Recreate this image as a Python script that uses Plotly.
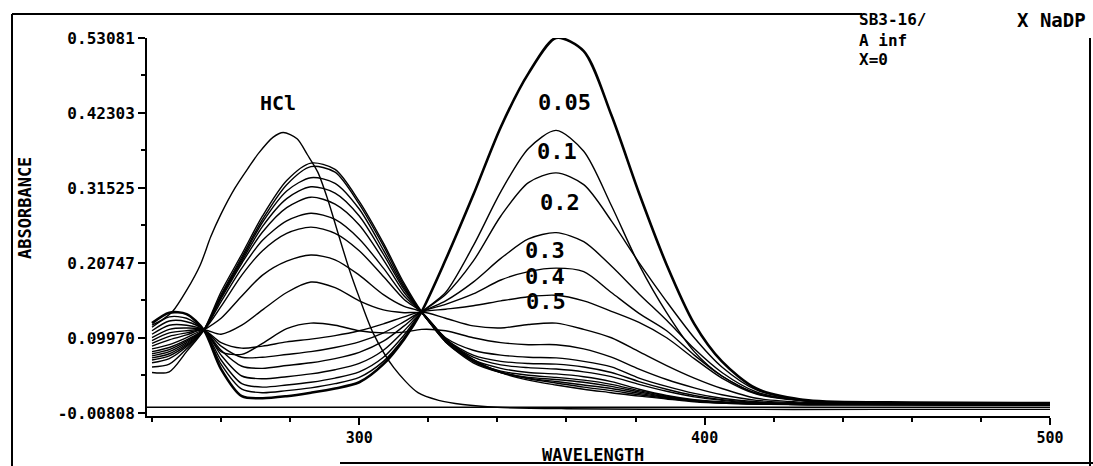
import plotly.graph_objects as go

# ---------------- data ----------------
WAVELENGTH = [240, 245, 250, 255, 260, 266, 272, 279, 286, 293, 300, 307, 313, 318,
              325, 333, 341, 349, 357, 365, 373, 381, 389, 397, 405, 415, 430, 460, 500]

c01 = [0.121, 0.136, 0.134, 0.111, 0.055, 0.016, 0.013, 0.016, 0.021, 0.027, 0.036, 0.062, 0.098, 0.137,
       0.212, 0.305, 0.403, 0.480, 0.531, 0.512, 0.420, 0.308, 0.205, 0.120, 0.066, 0.027, 0.010, 0.007, 0.006]
c02 = [0.115, 0.130, 0.128, 0.111, 0.062, 0.026, 0.021, 0.024, 0.028, 0.034, 0.043, 0.066, 0.100, 0.136,
       0.165, 0.232, 0.310, 0.372, 0.398, 0.368, 0.290, 0.205, 0.136, 0.080, 0.045, 0.020, 0.009, 0.006, 0.005]
c03 = [0.110, 0.124, 0.123, 0.111, 0.068, 0.034, 0.029, 0.032, 0.036, 0.042, 0.051, 0.072, 0.104, 0.136,
       0.162, 0.210, 0.275, 0.323, 0.337, 0.320, 0.268, 0.208, 0.152, 0.100, 0.058, 0.025, 0.010, 0.006, 0.005]
c04 = [0.105, 0.118, 0.118, 0.111, 0.075, 0.045, 0.041, 0.044, 0.048, 0.054, 0.063, 0.082, 0.110, 0.136,
       0.153, 0.180, 0.214, 0.242, 0.251, 0.238, 0.203, 0.163, 0.125, 0.084, 0.050, 0.022, 0.009, 0.006, 0.005]
c05 = [0.100, 0.112, 0.114, 0.111, 0.082, 0.059, 0.056, 0.060, 0.064, 0.070, 0.079, 0.095, 0.117, 0.137,
       0.148, 0.163, 0.183, 0.195, 0.200, 0.195, 0.165, 0.135, 0.110, 0.075, 0.045, 0.020, 0.009, 0.006, 0.005]
c06 = [0.096, 0.107, 0.110, 0.111, 0.088, 0.072, 0.072, 0.076, 0.080, 0.086, 0.094, 0.107, 0.123, 0.137,
       0.141, 0.146, 0.153, 0.159, 0.161, 0.153, 0.138, 0.122, 0.100, 0.070, 0.042, 0.019, 0.009, 0.006, 0.005]
c07 = [0.092, 0.102, 0.107, 0.111, 0.093, 0.085, 0.088, 0.094, 0.098, 0.103, 0.110, 0.120, 0.130, 0.137,
       0.128, 0.117, 0.114, 0.119, 0.121, 0.112, 0.100, 0.080, 0.060, 0.042, 0.027, 0.013, 0.007, 0.005, 0.004]
c08 = [0.088, 0.097, 0.104, 0.111, 0.080, 0.076, 0.092, 0.113, 0.121, 0.118, 0.110, 0.107, 0.108, 0.112,
       0.110, 0.100, 0.093, 0.090, 0.090, 0.084, 0.072, 0.055, 0.040, 0.028, 0.018, 0.010, 0.006, 0.005, 0.004]
c09 = [0.084, 0.090, 0.100, 0.111, 0.105, 0.118, 0.140, 0.165, 0.180, 0.172, 0.153, 0.140, 0.136, 0.135,
       0.100, 0.082, 0.075, 0.072, 0.071, 0.066, 0.058, 0.042, 0.030, 0.020, 0.013, 0.008, 0.005, 0.004, 0.004]
c10 = [0.080, 0.086, 0.097, 0.111, 0.128, 0.160, 0.190, 0.210, 0.219, 0.212, 0.190, 0.162, 0.145, 0.137,
       0.098, 0.075, 0.066, 0.063, 0.062, 0.058, 0.050, 0.037, 0.026, 0.017, 0.011, 0.007, 0.005, 0.004, 0.004]
c11 = [0.077, 0.083, 0.095, 0.111, 0.145, 0.190, 0.225, 0.250, 0.259, 0.250, 0.225, 0.188, 0.155, 0.137,
       0.097, 0.072, 0.061, 0.057, 0.055, 0.051, 0.044, 0.033, 0.023, 0.015, 0.010, 0.006, 0.005, 0.004, 0.004]
c12 = [0.074, 0.080, 0.093, 0.111, 0.152, 0.200, 0.240, 0.268, 0.279, 0.270, 0.242, 0.200, 0.160, 0.137,
       0.095, 0.068, 0.056, 0.050, 0.048, 0.044, 0.037, 0.026, 0.017, 0.011, 0.008, 0.005, 0.004, 0.004, 0.003]
c13 = [0.071, 0.077, 0.091, 0.111, 0.156, 0.207, 0.252, 0.287, 0.302, 0.292, 0.262, 0.212, 0.165, 0.137,
       0.094, 0.066, 0.052, 0.046, 0.043, 0.039, 0.033, 0.024, 0.016, 0.010, 0.007, 0.005, 0.004, 0.004, 0.003]
c14 = [0.068, 0.074, 0.089, 0.111, 0.158, 0.210, 0.260, 0.300, 0.317, 0.308, 0.275, 0.220, 0.169, 0.137,
       0.094, 0.064, 0.050, 0.043, 0.040, 0.036, 0.030, 0.022, 0.015, 0.010, 0.007, 0.005, 0.004, 0.004, 0.003]
c15 = [0.064, 0.070, 0.087, 0.111, 0.160, 0.213, 0.266, 0.311, 0.330, 0.322, 0.285, 0.226, 0.172, 0.137,
       0.096, 0.066, 0.050, 0.042, 0.037, 0.032, 0.027, 0.020, 0.014, 0.009, 0.006, 0.005, 0.004, 0.004, 0.003]
c16 = [0.058, 0.062, 0.084, 0.111, 0.162, 0.216, 0.270, 0.320, 0.346, 0.338, 0.292, 0.232, 0.175, 0.137,
       0.098, 0.068, 0.051, 0.041, 0.035, 0.029, 0.024, 0.018, 0.013, 0.009, 0.006, 0.005, 0.004, 0.004, 0.003]
c17 = [0.050, 0.051, 0.080, 0.111, 0.166, 0.220, 0.275, 0.326, 0.351, 0.342, 0.296, 0.236, 0.178, 0.138,
       0.099, 0.069, 0.050, 0.039, 0.032, 0.026, 0.021, 0.016, 0.012, 0.008, 0.006, 0.005, 0.004, 0.004, 0.003]

SERIES = [c01, c02, c03, c04, c05, c06, c07, c08, c09, c10, c11, c12, c13, c14, c15, c16, c17]

WAVELENGTH_HCL = [240, 243, 246, 250, 254, 257, 260, 264, 268, 271, 275, 278, 282, 285, 288, 291, 294,
                  297, 300, 304, 310, 317, 323, 330, 340, 360, 400, 450, 500]
HCL = [0.118, 0.126, 0.138, 0.168, 0.205, 0.245, 0.278, 0.315, 0.345, 0.366, 0.388, 0.395, 0.386, 0.363,
       0.338, 0.297, 0.248, 0.200, 0.158, 0.107, 0.057, 0.021, 0.010, 0.004, 0.000, -0.002, -0.003, -0.003, -0.003]

BASELINE = 0.0

Y_TICKS = [-0.00808, 0.09970, 0.20747, 0.31525, 0.42303, 0.53081]
Y_TICK_TEXT = ["-0.00808", "0.09970", "0.20747", "0.31525", "0.42303", "0.53081"]
X_TICKS = [300, 400, 500]
X_TICK_TEXT = ["300", "400", "500"]

CURVE_LABELS = ["0.05", "0.1", "0.2", "0.3", "0.4", "0.5"]
CURVE_LABEL_X = [359.3, 357.3, 358.1, 353.8, 353.8, 354.1]
CURVE_LABEL_Y = [0.4388, 0.3670, 0.2937, 0.2261, 0.1874, 0.1515]

# ---------------- figure ----------------
W, H = 1093, 466
L, R, T, B = 147, 1050, 38, 416   # plot-area pixel box
MONO = "DejaVu Sans Mono"

def px(xp):
    return (xp - L) / (R - L)

def py(yp):
    return (B - yp) / (B - T)

fig = go.Figure()

for i, s in enumerate(SERIES):
    fig.add_trace(go.Scatter(
        x=WAVELENGTH, y=s, mode="lines",
        line=dict(color="black", width=2.6 if i == 0 else 1.4, shape="spline", smoothing=0.8),
        hoverinfo="skip", showlegend=False))

fig.add_trace(go.Scatter(
    x=WAVELENGTH_HCL, y=HCL, mode="lines",
    line=dict(color="black", width=1.4, shape="spline", smoothing=0.8),
    hoverinfo="skip", showlegend=False))

x_lo = 238.55
y_lo = -0.0125
y_hi = 0.53081

fig.add_shape(type="line", xref="x", yref="y", x0=x_lo, x1=500, y0=BASELINE, y1=BASELINE,
              line=dict(color="black", width=1.5))

# frame lines (paper coords computed from pixel positions)
frame = [
    (12, 14, 12, 466),
    (12, 14, 862, 14),
    (1090, 38, 1090, 466),
    (340, 463, 1093, 463),
]
for x0, y0, x1, y1 in frame:
    fig.add_shape(type="line", xref="paper", yref="paper",
                  x0=px(x0), y0=py(y0), x1=px(x1), y1=py(y1),
                  line=dict(color="black", width=2))

annos = []
for t, x, y in zip(CURVE_LABELS, CURVE_LABEL_X, CURVE_LABEL_Y):
    annos.append(dict(text=t, x=x, y=y, xref="x", yref="y", showarrow=False,
                      font=dict(family=MONO, size=22, color="black", weight="bold")))
annos.append(dict(text="HCl", x=276.5, y=0.4374, xref="x", yref="y", showarrow=False,
                  font=dict(family=MONO, size=20, color="black", weight="bold")))

annos.append(dict(text="SB3-16/", x=px(857), y=py(20), xref="paper", yref="paper",
                  xanchor="left", yanchor="middle", showarrow=False,
                  font=dict(family=MONO, size=16, color="black", weight="bold")))
annos.append(dict(text="X NaDP", x=px(1088), y=py(20), xref="paper", yref="paper",
                  xanchor="right", yanchor="middle", showarrow=False,
                  font=dict(family=MONO, size=19, color="black", weight="bold")))
annos.append(dict(text="A inf", x=px(857), y=py(40), xref="paper", yref="paper",
                  xanchor="left", yanchor="middle", showarrow=False,
                  font=dict(family=MONO, size=16, color="black", weight="bold")))
annos.append(dict(text="X=0", x=px(857), y=py(59), xref="paper", yref="paper",
                  xanchor="left", yanchor="middle", showarrow=False,
                  font=dict(family=MONO, size=16, color="black", weight="bold")))

annos.append(dict(text="ABSORBANCE", x=px(25), y=py(208), xref="paper", yref="paper",
                  xanchor="center", yanchor="middle",
                  textangle=-90, showarrow=False,
                  font=dict(family=MONO, size=17, color="black", weight="bold")))
annos.append(dict(text="WAVELENGTH", x=px(593), y=py(455), xref="paper", yref="paper",
                  xanchor="center", yanchor="middle", showarrow=False,
                  font=dict(family=MONO, size=17, color="black", weight="bold")))

fig.update_layout(
    width=W, height=H,
    margin=dict(l=L, r=W - R, t=T, b=H - B, pad=0),
    paper_bgcolor="white", plot_bgcolor="white",
    showlegend=False,
    annotations=annos,
    xaxis=dict(range=[x_lo, 500], showgrid=False, zeroline=False,
               showline=True, linecolor="black", linewidth=2,
               tickmode="array", tickvals=X_TICKS, ticktext=X_TICK_TEXT,
               ticks="outside", ticklen=7, tickwidth=2, tickcolor="black",
               minor=dict(tick0=240, dtick=20, ticks="outside", ticklen=4, tickwidth=1.5,
                          tickcolor="black", showgrid=False),
               tickfont=dict(family=MONO, size=15, color="black", weight="bold")),
    yaxis=dict(range=[y_lo, y_hi], showgrid=False, zeroline=False,
               showline=True, linecolor="black", linewidth=2,
               tickmode="array", tickvals=Y_TICKS, ticktext=Y_TICK_TEXT,
               ticks="outside", ticklen=7, tickwidth=2, tickcolor="black",
               minor=dict(tick0=-0.00808, dtick=0.0538889, ticks="outside", ticklen=4,
                          tickwidth=1.5, tickcolor="black", showgrid=False),
               tickfont=dict(family=MONO, size=16, color="black", weight="bold")),
)

fig.write_html("out.html")
